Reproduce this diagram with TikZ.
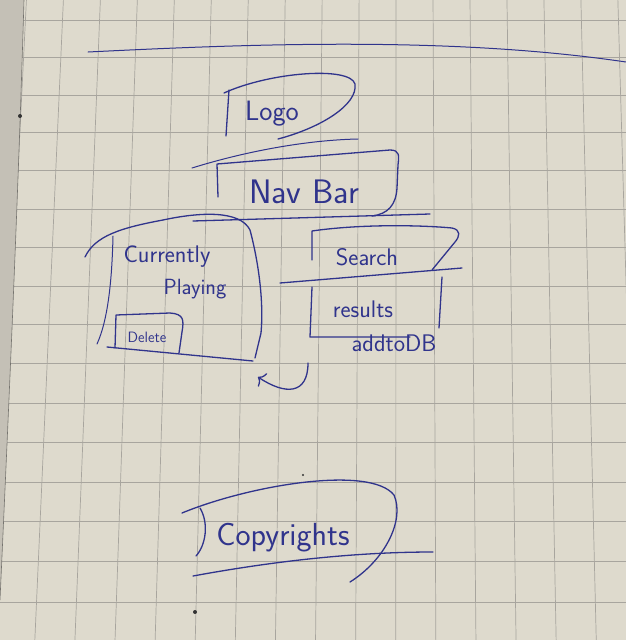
\documentclass[tikz,border=0pt]{standalone}
\usepackage{tikz}
\usetikzlibrary{arrows.meta}

\definecolor{ink}{RGB}{48,52,140}
\definecolor{paper}{RGB}{222,218,205}
\definecolor{gridgray}{RGB}{168,165,158}
\definecolor{pageedge}{RGB}{196,192,182}

\newcommand{\handsize}[1]{\sffamily\fontsize{#1}{#1}\selectfont}

\begin{document}
\begin{tikzpicture}[
    x=1pt, y=-1pt,
    pen/.style={draw=ink, line width=1.3pt, line cap=round, line join=round},
    hand/.style={text=ink, inner sep=0pt},
    gridline/.style={draw=gridgray, line width=0.7pt}
]

% paper and grid
\useasboundingbox (0,0) rectangle (626,640);
\fill[paper] (0,0) rectangle (626,640);
\begin{scope}
\clip (0,0) rectangle (626,640);
\foreach \k in {-11,...,6} {
  \pgfmathsetmacro\xa{400+(396+37.7*\k-400)*0.9805}
  \pgfmathsetmacro\xb{400+(396+37.7*\k-400)*1.0637}
  \draw[gridline] (\xa,0) -- (\xb,640);
}
\foreach \k in {-2,...,13} {
  \pgfmathsetmacro\yk{95+37.7*\k+0.1*(\k)*(\k)}
  \draw[gridline] (0,\yk) -- (626,\yk);
}
\end{scope}

% page edge on the left
\fill[pageedge] (0,0) -- (24,0) .. controls (18,200) and (10,380) .. (0,600) -- cycle;
\draw[gridgray!70!black, line width=0.6pt] (24,0) .. controls (18,200) and (10,380) .. (0,600);

% top rule
\draw[pen, line width=1pt] (88,52) .. controls (250,44) and (450,36) .. (626,62);

% logo
\node[hand, font=\handsize{28}] (logo) at (272,114) {Logo};
\draw[pen] (229,90) -- (226,136);
\draw[pen] (224,93) .. controls (270,72) and (350,66) .. (355,84)
               .. controls (358,105) and (320,128) .. (278,139);

% nav bar
\draw[pen, line width=1pt] (192,168) .. controls (250,150) and (310,140) .. (358,139);
\node[hand, font=\handsize{34}] (navbar) at (304,192) {Nav Bar};
\draw[pen] (218,197) -- (217,164) -- (390,150) .. controls (400,150) and (399,156) .. (398,165)
               -- (397,188) .. controls (396,205) and (388,214) .. (372,216);
\draw[pen] (193,221) -- (430,214);

% currently playing
\draw[pen] (85,257) .. controls (95,236) and (120,228) .. (163,220)
               .. controls (200,212) and (240,210) .. (250,230)
               .. controls (258,260) and (264,300) .. (261,333) -- (255,358);
\draw[pen, line width=1pt] (113,236) .. controls (112,280) and (108,320) .. (97,344);
\draw[pen] (107,347) -- (253,361);
\node[hand, font=\handsize{24}] (current) at (167,257) {Currently};
\node[hand, font=\handsize{22}] (playing) at (195,289) {Playing};

% delete button
\draw[pen] (115,348) -- (116,315) -- (170,313) .. controls (184,314) and (184,320) .. (182,332) -- (179,353);
\node[hand, font=\handsize{15}] (delete) at (147,337) {Delete};

% search
\draw[pen] (312,260) -- (312,231) .. controls (360,224) and (420,225) .. (452,228)
               .. controls (461,230) and (460,236) .. (455,242) -- (432,270);
\draw[pen] (280,283) -- (462,268);
\node[hand, font=\handsize{24}] (search) at (367,257) {Search};

% results
\draw[pen] (312,287) -- (310,337) -- (410,337);
\draw[pen] (442,277) -- (439,328);
\node[hand, font=\handsize{24}] (results) at (363,309) {results};
\node[hand, font=\handsize{24}] (addtodb) at (394,343) {addtoDB};

% results back to currently playing
\coordinate (resultsout) at (308,363);
\coordinate (currentin) at (258,377);
\draw[pen, -{To[length=6pt, width=16pt]}] (resultsout) .. controls (308,395) and (285,395) .. (currentin);

% copyrights
\draw[pen] (182,513) .. controls (250,485) and (370,465) .. (394,495)
               .. controls (405,520) and (385,560) .. (350,582);
\draw[pen] (200,508) .. controls (209,523) and (206,545) .. (196,556);
\draw[pen] (193,576) .. controls (280,560) and (360,552) .. (433,552);
\node[hand, font=\handsize{32}] (copyright) at (283,538) {Copyrights};

% ink dots
\fill[black!80] (20,116) circle (2pt);
\fill[black!80] (195,612) circle (2pt);
\fill[black!80] (303,475) circle (1.2pt);

\end{tikzpicture}
\end{document}
